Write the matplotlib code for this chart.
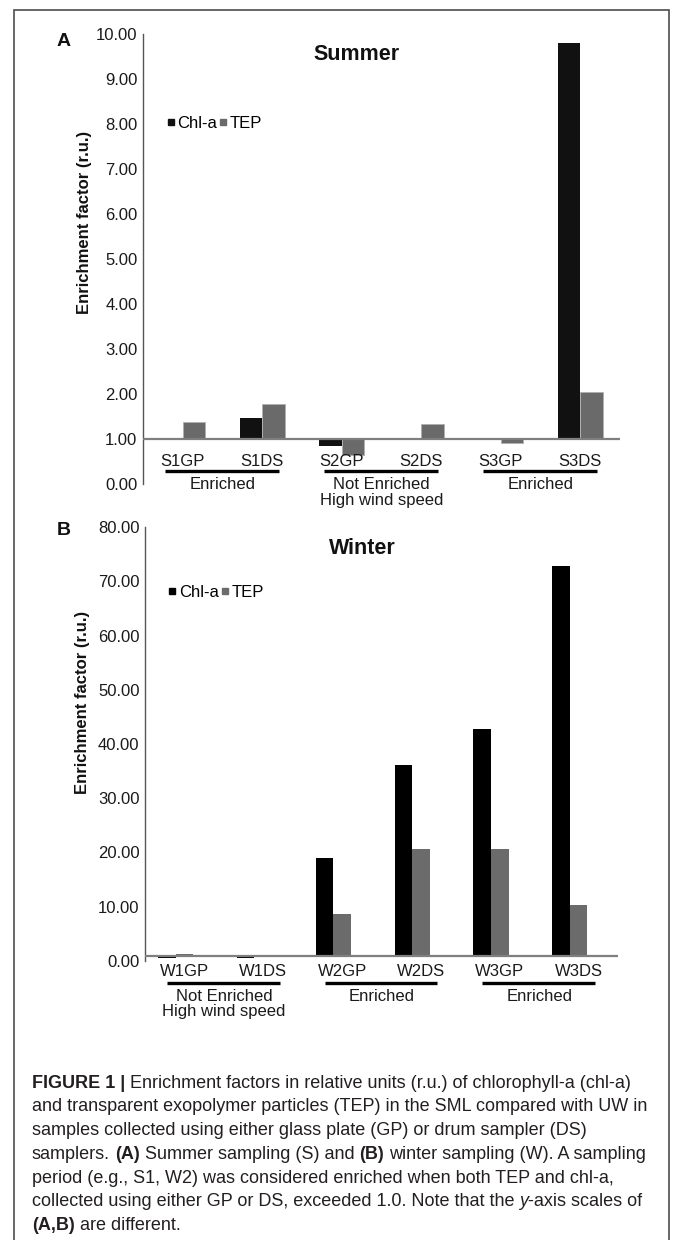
import matplotlib
matplotlib.use('Agg')
import matplotlib.pyplot as plt
from matplotlib.lines import Line2D
from matplotlib.patches import Rectangle

plt.rcParams['font.family'] = ['Liberation Sans', 'DejaVu Sans']

# ── data ─────────────────────────────────────────────────────
summer_labels = ['S1GP', 'S1DS', 'S2GP', 'S2DS', 'S3GP', 'S3DS']
summer_chla = [1.00, 1.47, 0.85, 0.98, 1.00, 9.80]
summer_tep = [1.37, 1.78, 0.64, 1.33, 0.91, 2.05]
summer_groups = ['Enriched', 'Not Enriched\nHigh wind speed', 'Enriched']

winter_labels = ['W1GP', 'W1DS', 'W2GP', 'W2DS', 'W3GP', 'W3DS']
winter_chla = [0.60, 0.60, 18.9, 36.2, 42.8, 72.8]
winter_tep = [1.20, 0.90, 8.6, 20.6, 20.7, 10.3]
winter_groups = ['Not Enriched\nHigh wind speed', 'Enriched', 'Enriched']

y_ticks_summer = [0, 1, 2, 3, 4, 5, 6, 7, 8, 9, 10]
y_ticks_winter = [0, 10, 20, 30, 40, 50, 60, 70, 80]
baseline = 1.0

W, H = 673, 1240
fig = plt.figure(figsize=(W / 100, H / 100), dpi=100)
txt = '#1a1a1a'


def px_axes(left, right, top, bottom):
    return fig.add_axes([left / W, 1 - bottom / H, (right - left) / W, (bottom - top) / H])


def style_axes(ax, ticks, top):
    ax.set_xlim(-0.5, 5.5)
    ax.set_ylim(0, top)
    ax.set_yticks(ticks)
    ax.set_yticklabels([f'{t:.2f}' for t in ticks], fontsize=12, color=txt)
    ax.tick_params(axis='y', length=0, pad=4)
    ax.set_xticks([])
    for s in ['top', 'right', 'bottom']:
        ax.spines[s].set_visible(False)
    ax.spines['left'].set_color('#555555')
    ax.spines['left'].set_linewidth(1.0)
    ax.axhline(baseline, color='#7f7f7f', lw=1.6, zorder=3)
    ax.patch.set_alpha(0)


def draw_groups(ax, labels, groups, y_lab, y_line, y_grp):
    tr = ax.get_xaxis_transform()
    for i, lab in enumerate(labels):
        ax.text(i, y_lab, lab, transform=tr, ha='center', va='center',
                fontsize=12, color=txt, clip_on=False)
    for g, name in enumerate(groups):
        a = 2 * g
        ax.plot([a - 0.22, a + 1.21], [y_line, y_line], transform=tr,
                color='black', lw=2.4, solid_capstyle='butt', clip_on=False)
        ax.text(a + 0.5, y_grp, name, transform=tr, ha='center', va='top',
                fontsize=12, color=txt, linespacing=1.05, clip_on=False)


def add_legend(ax, y, chl_color, tep_color):
    handles = [Line2D([], [], marker='s', ls='None', color=chl_color, markersize=5),
               Line2D([], [], marker='s', ls='None', color=tep_color, markersize=5)]
    ax.legend(handles, ['Chl-a', 'TEP'], ncol=2, frameon=False, fontsize=12,
              handlelength=0.5, handletextpad=0.15, columnspacing=0.1,
              loc='center left', bbox_to_anchor=(0.035, y), borderaxespad=0)


# ── panel A ──────────────────────────────────────────────────
ax1 = px_axes(143, 620, 34, 484)
style_axes(ax1, y_ticks_summer, 10)
w1 = 0.28
x = list(range(len(summer_labels)))
ax1.bar([i - w1 / 2 for i in x], [v - baseline for v in summer_chla], w1,
        bottom=baseline, color='#111111', zorder=2)
ax1.bar([i + w1 / 2 for i in x], [v - baseline for v in summer_tep], w1,
        bottom=baseline, color='#6a6a6a', edgecolor='#b0b0b0', lw=0.6, zorder=2)
draw_groups(ax1, summer_labels, summer_groups, 0.051, 0.030, 0.015)
add_legend(ax1, 0.802, '#111111', '#6a6a6a')
fig.text(357 / W, 1 - 55 / H, 'Summer', fontsize=15.5, fontweight='bold',
         ha='center', va='center', color='#111111')
fig.text(64 / W, 1 - 42 / H, 'A', fontsize=14, fontweight='bold',
         ha='center', va='center', color='#111111')
fig.text(85 / W, 1 - 222 / H, 'Enrichment factor (r.u.)', rotation=90,
         fontsize=12, fontweight='bold', ha='center', va='center', color='#111111')

# ── panel B ──────────────────────────────────────────────────
ax2 = px_axes(145, 618, 527, 961)
style_axes(ax2, y_ticks_winter, 80)
w2 = 0.222
ax2.bar([i - w2 for i in x], [v - baseline for v in winter_chla], w2,
        bottom=baseline, color='#000000', zorder=2)
ax2.bar(x, [v - baseline for v in winter_tep], w2,
        bottom=baseline, color='#6b6b6b', zorder=2)
draw_groups(ax2, winter_labels, winter_groups, -0.025, -0.050, -0.064)
add_legend(ax2, 0.85, '#000000', '#6b6b6b')
fig.text(362 / W, 1 - 548 / H, 'Winter', fontsize=15.5, fontweight='bold',
         ha='center', va='center', color='#111111')
fig.text(64 / W, 1 - 530 / H, 'B', fontsize=14, fontweight='bold',
         ha='center', va='center', color='#111111')
fig.text(82 / W, 1 - 702 / H, 'Enrichment factor (r.u.)', rotation=90,
         fontsize=12, fontweight='bold', ha='center', va='center', color='#111111')

# ── outer frame ──────────────────────────────────────────────
fig.patches.append(Rectangle((14 / W, -0.01), (669 - 14) / W, 1 - 10 / H + 0.01,
                             transform=fig.transFigure, fill=False,
                             edgecolor='#4d4d4d', lw=1.2))

# ── caption ──────────────────────────────────────────────────
cap_size = 13
cap_color = '#231f20'
renderer = fig.canvas.get_renderer()


def text_width(s, **kw):
    t = fig.text(0, 0, s, fontsize=cap_size, **kw)
    w = t.get_window_extent(renderer=renderer).width
    t.remove()
    return w


space_w = text_width('x x') - text_width('xx')

caption = [
    [('FIGURE 1 |', 'bold', 'normal'),
     ('Enrichment factors in relative units (r.u.) of chlorophyll-a (chl-a)', 'normal', 'normal')],
    [('and transparent exopolymer particles (TEP) in the SML compared with UW in', 'normal', 'normal')],
    [('samples collected using either glass plate (GP) or drum sampler (DS)', 'normal', 'normal')],
    [('samplers.', 'normal', 'normal'), ('(A)', 'bold', 'normal'),
     ('Summer sampling (S) and', 'normal', 'normal'), ('(B)', 'bold', 'normal'),
     ('winter sampling (W). A sampling', 'normal', 'normal')],
    [('period (e.g., S1, W2) was considered enriched when both TEP and chl-a,', 'normal', 'normal')],
    [('collected using either GP or DS, exceeded 1.0. Note that the', 'normal', 'normal'),
     ('y', 'normal', 'italic'), ('-axis scales of', 'normal', 'normal')],
    [('(A,B)', 'bold', 'normal'), ('are different.', 'normal', 'normal')],
]

y0 = 1083
for k, parts in enumerate(caption):
    xp = 32.0
    for j, (s, wt, st) in enumerate(parts):
        if j > 0 and not s.startswith('-'):
            xp += space_w
        fig.text(xp / W, 1 - (y0 + 23.8 * k) / H, s, fontsize=cap_size,
                 fontweight=wt, fontstyle=st, color=cap_color, va='center', ha='left')
        xp += text_width(s, fontweight=wt, fontstyle=st)
        if st == 'italic':
            xp -= 0.5

fig.savefig('out.png', dpi=100)
